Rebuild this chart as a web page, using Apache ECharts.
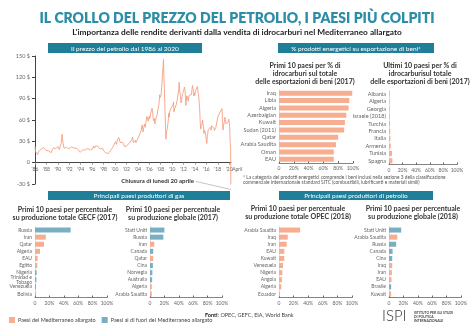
<!DOCTYPE html>
<html><head><meta charset="utf-8">
<script src="https://cdn.jsdelivr.net/npm/echarts@6/dist/echarts.min.js"></script>
<style>html,body{margin:0;padding:0;background:#fff}#c{width:474px;height:334px}</style>
</head><body><div id="c"></div>
<script>
const FONT = 'Lato, "Open Sans", sans-serif';
const TEAL = '#2c8ea6', HEAD_BG = '#1f7f99';
const MED = '#f7ad90', NONMED = '#79afc1', LINE = '#f59f80';

// WTI crude price, monthly from Jan 1986 (USD per barrel)
const wtiStartYear = 1986;
const wtiMonthly = [
  22.9, 15.4, 12.6, 12.8, 15.4, 13.5, 11.2, 15.1, 14.9, 14.9, 15.2, 16.1,
  18.7, 17.7, 18.3, 18.6, 19.4, 20.0, 21.4, 20.3, 19.5, 19.8, 18.9, 17.2,
  17.1, 16.7, 16.2, 17.9, 17.4, 16.5, 15.5, 15.5, 14.5, 13.8, 14.0, 16.3,
  18.0, 17.8, 19.4, 21.0, 20.0, 20.0, 19.6, 18.5, 19.6, 20.1, 19.8, 21.1,
  22.9, 22.1, 20.4, 18.4, 18.2, 16.9, 18.6, 27.2, 33.7, 40.0, 32.3, 27.3,
  25.2, 20.5, 19.9, 20.8, 21.2, 20.2, 21.4, 21.7, 21.9, 23.2, 22.5, 19.5,
  18.8, 19.0, 18.9, 20.2, 20.9, 22.4, 21.8, 21.4, 21.9, 21.7, 20.3, 19.4,
  19.1, 20.1, 20.3, 20.3, 19.9, 19.1, 17.9, 18.0, 17.5, 18.2, 16.7, 14.5,
  15.0, 14.8, 14.7, 16.4, 17.9, 19.1, 19.7, 18.4, 17.5, 17.7, 18.1, 17.2,
  18.0, 18.6, 18.5, 19.9, 19.7, 18.4, 17.3, 18.0, 18.2, 17.4, 18.0, 19.0,
  18.9, 19.1, 21.4, 23.6, 21.2, 20.4, 21.3, 21.9, 23.9, 24.9, 23.7, 25.4,
  25.2, 22.2, 21.0, 19.7, 20.8, 19.2, 19.6, 19.9, 19.8, 21.3, 20.2, 18.3,
  16.7, 16.1, 15.0, 15.4, 14.9, 13.7, 14.2, 13.4, 15.0, 14.4, 12.9, 11.0,
  12.5, 12.0, 14.7, 17.3, 17.8, 17.9, 20.1, 21.3, 23.9, 22.6, 25.0, 26.1,
  27.2, 29.4, 31.5, 25.7, 28.8, 31.8, 29.7, 31.2, 35.5, 33.1, 34.4, 28.5,
  29.6, 29.6, 27.2, 27.4, 28.6, 27.6, 26.4, 27.4, 26.2, 22.2, 19.6, 19.3,
  19.7, 20.7, 24.4, 26.3, 27.0, 25.5, 26.9, 28.4, 29.7, 28.9, 26.3, 29.4,
  32.9, 35.9, 33.6, 28.3, 28.1, 30.7, 30.8, 31.6, 28.3, 30.3, 31.1, 32.2,
  34.3, 34.7, 36.7, 36.7, 40.3, 38.0, 40.7, 44.9, 46.0, 53.1, 48.5, 43.3,
  46.8, 48.0, 54.3, 53.0, 49.8, 56.4, 59.0, 65.0, 65.6, 62.4, 58.3, 59.4,
  65.5, 61.6, 62.7, 69.4, 70.8, 70.9, 76.5, 73.0, 63.8, 58.9, 59.1, 62.0,
  54.5, 59.3, 60.4, 64.0, 63.5, 67.5, 74.1, 72.4, 79.9, 85.8, 95.5, 91.7,
  93.0, 95.4, 105.5, 112.6, 125.4, 134.0, 145.0, 116.7, 104.1, 76.6, 57.3, 33.0,
  41.7, 39.1, 47.9, 49.6, 59.0, 69.6, 64.2, 71.1, 69.4, 75.7, 78.0, 74.5,
  78.3, 76.4, 81.2, 85.5, 71.5, 75.3, 76.3, 76.6, 75.2, 81.9, 84.3, 89.2,
  89.2, 88.6, 102.9, 113.0, 100.9, 96.3, 97.3, 84.0, 85.5, 86.3, 97.2, 98.6,
  100.3, 102.2, 106.2, 103.3, 94.7, 80.5, 87.9, 94.1, 94.5, 89.5, 86.5, 87.9,
  94.8, 95.3, 92.9, 92.0, 94.5, 95.8, 104.6, 108.5, 106.3, 100.5, 93.9, 97.6,
  94.6, 100.8, 100.8, 102.1, 102.2, 107.0, 103.6, 96.5, 93.2, 84.4, 75.8, 59.3,
  47.2, 50.6, 47.8, 54.5, 60.0, 59.8, 50.9, 41.0, 45.5, 46.2, 42.4, 37.2,
  31.7, 27.0, 37.6, 40.8, 46.7, 48.8, 44.7, 44.7, 45.2, 49.8, 45.7, 52.0,
  52.5, 53.5, 49.3, 51.1, 48.5, 45.2, 46.6, 48.0, 49.8, 51.6, 56.6, 57.9,
  63.7, 62.2, 62.7, 66.3, 70.0, 67.9, 71.0, 68.1, 70.2, 76.0, 57.0, 46.0,
  51.4, 55.0, 58.2, 63.9, 60.8, 54.7, 57.4, 54.8, 57.0, 54.0, 57.0, 61.0,
  57.5, 50.5, 29.2
];
// April 2020: start of month, then the close of Monday 20 April
const wtiApril2020 = [[2020.25, 20.1], [2020.30, -37.63]];
const priceTicks = { min: -30, max: 150, step: 30 };

// Fuel share of merchandise exports, 2017 (%)
const topFuelCountries = ['Iraq', 'Libia', 'Algeria', 'Azerbaigian', 'Kuwait', 'Sudan (2011)', 'Qatar', 'Arabia Saudita', 'Oman', 'EAU'];
const topFuelShare = [99, 95, 94, 91, 89, 88, 80, 77, 74, 74];
const lowFuelCountries = ['Albania', 'Algeria', 'Georgia', 'Israele (2018)', 'Turchia', 'Francia', 'Italia', 'Armenia', 'Tunisia', 'Spagna'];
const lowFuelShare = [0.8, 0.9, 1.0, 1.0, 1.5, 1.8, 2.0, 2.5, 4.5, 5.0];

// Gas producers, 2017 (%), 1 = Mediterraneo allargato
const gasGecfCountries = ['Russia', 'Iran', 'Qatar', 'Algeria', 'EAU', 'Egitto', 'Nigeria', 'Trinidad e\nTobago', 'Venezuela', 'Bolivia'];
const gasGecfShare = [49.5, 15, 12.5, 7, 3.7, 3.2, 2.3, 1.9, 1.4, 0.9];
const gasGecfMed = [0, 1, 1, 1, 1, 1, 0, 0, 0, 0];
const gasWorldCountries = ['Stati Uniti', 'Russia', 'Iran', 'Canada', 'Qatar', 'Cina', 'Norvegia', 'Australia', 'Algeria', 'Arabia Saudita'];
const gasWorldShare = [20, 18.5, 6, 4.5, 4.5, 4, 3.3, 3, 2.5, 2.5];
const gasWorldMed = [0, 0, 1, 0, 1, 0, 0, 0, 1, 1];

// Oil producers, 2018 (%)
const oilOpecCountries = ['Arabia Saudita', 'Iraq', 'Iran', 'EAU', 'Kuwait', 'Venezuela', 'Nigeria', 'Angola', 'Algeria', 'Ecuador'];
const oilOpecShare = [29, 12, 10.5, 7.3, 7.3, 5.5, 4.6, 4.2, 3.2, 1.4];
const oilOpecMed = [1, 1, 1, 1, 1, 1, 1, 1, 1, 1];
const oilWorldCountries = ['Stati Uniti', 'Arabia Saudita', 'Russia', 'Canada', 'Cina', 'Iraq', 'Iran', 'EAU', 'Brasile', 'Kuwait'];
const oilWorldShare = [17, 11.5, 10, 5, 4.5, 4.5, 4, 3.5, 3, 3];
const oilWorldMed = [0, 1, 0, 0, 0, 1, 1, 1, 0, 1];

const pctTicks = [0, 100, 20];
const MED_NAME = 'Paesi del Mediterraneo allargato';
const NONMED_NAME = 'Paesi al di fuori del Mediterraneo allargato';

const chart = echarts.init(document.getElementById('c'), null, { renderer: 'canvas' });

// bar panels: grid boxes
const panels = [
  { box: { left: 279, top: 89.5, width: 74, height: 73.5 }, cats: topFuelCountries, vals: topFuelShare, med: topFuelCountries.map(() => 1), lab: 5.6 },
  { box: { left: 389, top: 90.5, width: 68, height: 74 }, cats: lowFuelCountries, vals: lowFuelShare, med: lowFuelCountries.map(() => 1), lab: 5.6 },
  { box: { left: 35, top: 226.5, width: 72, height: 71 }, cats: gasGecfCountries, vals: gasGecfShare, med: gasGecfMed, lab: 5 },
  { box: { left: 150, top: 226.5, width: 72, height: 71 }, cats: gasWorldCountries, vals: gasWorldShare, med: gasWorldMed, lab: 5 },
  { box: { left: 279, top: 226.5, width: 73, height: 71 }, cats: oilOpecCountries, vals: oilOpecShare, med: oilOpecMed, lab: 5 },
  { box: { left: 389, top: 226.5, width: 72, height: 71 }, cats: oilWorldCountries, vals: oilWorldShare, med: oilWorldMed, lab: 5 }
];

const priceGrid = { left: 35, top: 56, width: 196, height: 128 };
// lift the time axis so it sits on the zero price line
const zeroOffset = -priceGrid.height * (0 - priceTicks.min) / (priceTicks.max - priceTicks.min);

const grids = [priceGrid];
const xAxes = [{
  type: 'value', gridIndex: 0, min: 1986, max: 2020.32, interval: 2, offset: zeroOffset,
  axisLine: { onZero: false, lineStyle: { color: '#444', width: 1 } },
  axisTick: { show: true, length: 2, lineStyle: { color: '#999' } },
  splitLine: { show: false },
  axisLabel: { fontSize: 5, color: '#666', fontFamily: FONT, margin: 4, hideOverlap: false,
    formatter: v => "'" + String(v).slice(2) }
}];
const yAxes = [{
  type: 'value', gridIndex: 0, min: priceTicks.min, max: priceTicks.max, interval: priceTicks.step,
  axisLine: { show: true, lineStyle: { color: '#444', width: 1 } },
  axisTick: { show: true, length: 3, lineStyle: { color: '#444' } },
  splitLine: { show: false },
  axisLabel: { fontSize: 5.5, color: '#666', fontFamily: FONT, margin: 5,
    formatter: v => v === 0 ? '0' : v + ' $' }
}];
const series = [{
  type: 'line', xAxisIndex: 0, yAxisIndex: 0, showSymbol: false, silent: true,
  lineStyle: { color: LINE, width: 0.9 },
  data: wtiMonthly.map((v, i) => [wtiStartYear + i / 12, v]).concat(wtiApril2020)
}];

panels.forEach((p, k) => {
  const gi = k + 1;
  grids.push(p.box);
  xAxes.push({
    type: 'value', gridIndex: gi, min: pctTicks[0], max: pctTicks[1], interval: pctTicks[2],
    axisLine: { show: true, lineStyle: { color: '#666', width: 0.8 } },
    axisTick: { show: true, inside: true, length: 2, lineStyle: { color: '#666' } },
    splitLine: { show: false },
    axisLabel: { fontSize: 5, color: '#666', fontFamily: FONT, margin: 3, hideOverlap: false,
      formatter: v => v === 0 ? '0' : v + '%' }
  });
  yAxes.push({
    type: 'category', gridIndex: gi, inverse: true, data: p.cats,
    axisLine: { show: true, lineStyle: { color: '#ccc', width: 0.6 } },
    axisTick: { show: false },
    axisLabel: { interval: 0, fontSize: p.lab, color: '#666', fontFamily: FONT, margin: 3, lineHeight: p.lab },
  });
  series.push({
    type: 'bar', name: MED_NAME, xAxisIndex: gi, yAxisIndex: gi, stack: 's' + gi, barWidth: 5,
    itemStyle: { color: MED }, silent: true,
    data: p.vals.map((v, i) => p.med[i] ? v : '-')
  });
  series.push({
    type: 'bar', name: NONMED_NAME, xAxisIndex: gi, yAxisIndex: gi, stack: 's' + gi, barWidth: 5,
    itemStyle: { color: NONMED }, silent: true,
    data: p.vals.map((v, i) => p.med[i] ? '-' : v)
  });
});

function header(x, y, w, h, text) {
  return [
    { type: 'rect', shape: { x, y, width: w, height: h }, style: { fill: HEAD_BG }, silent: true },
    { type: 'text', x: x + w / 2, y: y + h / 2 + 0.5, silent: true,
      style: { text, fill: '#fff', font: '6.5px ' + FONT, align: 'center', verticalAlign: 'middle' } }
  ];
}
function caption(x, y, text, size) {
  return { type: 'text', x, y, silent: true,
    style: { text, fill: '#333', font: 'bold ' + size + 'px ' + FONT, align: 'center', verticalAlign: 'top', lineHeight: size + 1 } };
}

const graphics = [
  { type: 'text', x: 237, y: 18, silent: true,
    style: { text: 'IL CROLLO DEL PREZZO DEL PETROLIO, I PAESI PIÙ COLPITI', fill: TEAL, font: '800 14px ' + FONT, align: 'center', verticalAlign: 'middle' } },
  { type: 'text', x: 237, y: 32, silent: true,
    style: { text: "L'importanza delle rendite derivanti dalla vendita di idrocarburi nel Mediterraneo allargato", fill: '#222', font: 'bold 8.3px ' + FONT, align: 'center', verticalAlign: 'middle' } },
  ...header(48, 43, 154, 10, 'Il prezzo del petrolio dal 1986 al 2020'),
  ...header(278, 43, 156, 10, '% prodotti energetici su esportazione di beni*'),
  ...header(48, 191, 182, 9, 'Principali paesi produttori di gas'),
  ...header(279, 191, 154, 9, 'Principali paesi produttori di petrolio'),
  caption(305, 61.5, 'Primi 10 paesi per % di\nidrocarburi sul totale\ndelle esportazioni di beni (2017)', 7),
  caption(420, 61.5, 'Ultimi 10 paesi per % di\nidrocarburisul totale\ndelle esportazioni di beni (2017)', 7),
  caption(65, 206, 'Primi 10 paesi per percentuale\nsu produzione totale GECF (2017)', 7),
  caption(173, 206, 'Primi 10 paesi per percentuale\nsu produzione globale (2017)', 7),
  caption(298, 205, 'Primi 10 paesi per percentuale\nsu produzione totale OPEC (2018)', 7),
  caption(413, 205, 'Primi 10 paesi per percentuale\nsu produzione globale (2018)', 7),
  { type: 'text', x: 243, y: 174.5, silent: true,
    style: { text: '* La categoria dei prodotti energetici comprende i beni inclusi nella sezione 3 della classificazione\ncommerciale internazionale standard SITC (combustibili, lubrificanti e materiali simili)',
      fill: '#555', font: '4.8px ' + FONT, lineHeight: 5, align: 'left', verticalAlign: 'top' } },
  { type: 'text', x: 205, y: 315, silent: true,
    style: { text: '{b|Fonti}: OPEC, GEFC, EIA, World Bank', fill: '#444', font: '5.5px ' + FONT, verticalAlign: 'middle',
      rich: { b: { fontWeight: 'bold', fontSize: 5.5, fontFamily: FONT, fill: '#222' } } } },
  { type: 'text', x: 382, y: 316.5, silent: true,
    style: { text: 'ISPI', fill: '#333', font: '300 15px ' + FONT, verticalAlign: 'middle' } },
  { type: 'text', x: 414, y: 311, silent: true,
    style: { text: 'ISTITUTO PER GLI STUDI\nDI POLITICA\nINTERNAZIONALE', fill: '#444', font: 'bold 3.4px ' + FONT, lineHeight: 3.8, verticalAlign: 'top' } }
];

chart.setOption({
  animation: false,
  textStyle: { fontFamily: FONT },
  grid: grids, xAxis: xAxes, yAxis: yAxes, series,
  legend: {
    data: [MED_NAME, NONMED_NAME], left: 4, top: 312, itemWidth: 6, itemHeight: 6, itemGap: 6,
    icon: 'rect', selectedMode: false,
    textStyle: { fontSize: 5.5, color: '#444', fontFamily: FONT, padding: [0, 0, 0, -2] }
  },
  graphic: graphics
});

// annotation for the negative close, placed from the data point
const last = wtiApril2020[wtiApril2020.length - 1];
const pt = chart.convertToPixel({ xAxisIndex: 0, yAxisIndex: 0 }, last);
const zeroY = chart.convertToPixel({ xAxisIndex: 0, yAxisIndex: 0 }, [2020, 0]);
chart.setOption({
  graphic: graphics.concat([
    { type: 'text', x: pt[0] - 37, y: pt[1] - 8, silent: true,
      style: { text: 'Chiusura di lunedì 20 aprile', fill: '#333', font: 'bold 6px ' + FONT, align: 'right', verticalAlign: 'middle' } },
    { type: 'line', silent: true, shape: { x1: pt[0] - 35, y1: pt[1] - 8, x2: pt[0], y2: pt[1] },
      style: { stroke: '#888', lineWidth: 0.5 } },
    { type: 'text', x: zeroY[0] + 3, y: zeroY[1] + 6.5, silent: true,
      style: { text: 'April', fill: '#666', font: '5px ' + FONT, align: 'left', verticalAlign: 'middle' } }
  ])
});
</script></body></html>
